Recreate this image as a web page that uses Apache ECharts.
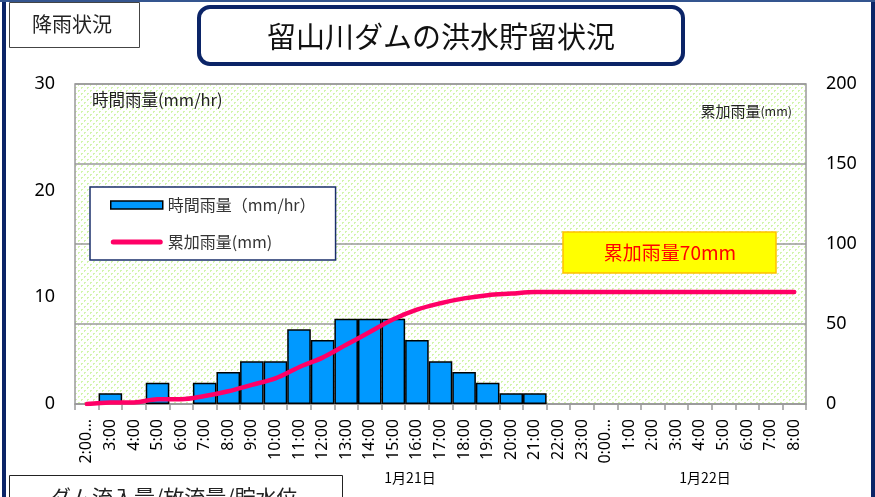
<!DOCTYPE html>
<html><head><meta charset="utf-8">
<script src="https://cdn.jsdelivr.net/npm/echarts@6/dist/echarts.min.js"></script>
<style>html,body{margin:0;padding:0;background:#fff;}#c{width:875px;height:497px;}</style>
</head><body><div id="c"></div>
<script>
const categories = ['2:00...','3:00','4:00','5:00','6:00','7:00','8:00','9:00','10:00','11:00','12:00','13:00','14:00','15:00','16:00','17:00','18:00','19:00','20:00','21:00','22:00','23:00','0:00...','1:00','2:00','3:00','4:00','5:00','6:00','7:00','8:00'];
const hourlyRain = [0,1,0,2,0,2,3,4,4,7,6,8,8,8,6,4,3,2,1,1,null,null,null,null,null,null,null,null,null,null,null];
const cumulativeRain = [0,1,1,3,3,5,8,12,16,23,29,37,45,53,59,63,66,68,69,70,70,70,70,70,70,70,70,70,70,70,70];
const leftTicks = {min:0, max:30, interval:10};
const rightTicks = {min:0, max:200, interval:50};
const dayLabels = ['1月21日','1月22日'];

const JP = "'Noto Sans CJK JP','Noto Sans',sans-serif";
const NUM = "'Noto Sans','Noto Sans CJK JP',sans-serif";

const pc = document.createElement('canvas');
pc.width = 6; pc.height = 6;
const pctx = pc.getContext('2d');
pctx.fillStyle = '#ffffff'; pctx.fillRect(0,0,6,6);
pctx.fillStyle = '#d2f5ad';
pctx.fillRect(0,0,2,1); pctx.fillRect(0,1,1,1);
pctx.fillRect(3,3,2,1); pctx.fillRect(3,4,1,1);

const chart = echarts.init(document.getElementById('c'), null, {renderer:'canvas'});
const option = {
  animation: false,
  backgroundColor: '#fff',
  grid: {left:75, right:69, top:84, bottom:93, show:true,
    backgroundColor: {image: pc, repeat: 'repeat'},
    borderColor:'#9a9a9a', borderWidth:1.5},
  legend: {
    orient:'vertical', left:90, top:187,
    backgroundColor:'#fff', borderColor:'#1a2f6b', borderWidth:1.5, borderRadius:0,
    padding:[10, 20, 10, 20],
    itemWidth:52, itemHeight:8, itemGap:21,
    textStyle:{fontFamily:JP, fontSize:16, color:'#333', lineHeight:16, padding:[0,0,0,0]},
    data:[
      {name:'時間雨量（mm/hr）', icon:'rect', itemStyle:{color:'#0099FF', borderColor:'#000', borderWidth:1.5}},
      {name:'累加雨量(mm)', icon:'path://M2.5,0 H49.5 A2.5,2.5 0 0 1 49.5,5 H2.5 A2.5,2.5 0 0 1 2.5,0 Z', itemStyle:{color:'#FF0066'}}
    ]
  },
  xAxis: {
    type:'category', data:categories, boundaryGap:true,
    axisLine:{show:true, lineStyle:{color:'#9a9a9a', width:1.5}},
    axisTick:{show:true, length:6, lineStyle:{color:'#9a9a9a', width:1.5}, alignWithLabel:false},
    axisLabel:{interval:0, rotate:90, margin:15, fontFamily:NUM, fontSize:16, color:'#000'}
  },
  yAxis: [
    {type:'value', min:leftTicks.min, max:leftTicks.max, interval:leftTicks.interval, position:'left',
      axisLine:{show:false}, axisTick:{show:false}, splitLine:{show:false},
      axisLabel:{margin:20, fontFamily:NUM, fontSize:18, color:'#000'}},
    {type:'value', min:rightTicks.min, max:rightTicks.max, interval:rightTicks.interval, position:'right',
      axisLine:{show:false}, axisTick:{show:false},
      splitLine:{show:true, lineStyle:{color:'#9a9a9a', width:1.5}},
      axisLabel:{margin:20, fontFamily:NUM, fontSize:18, color:'#000'}}
  ],
  series: [
    {name:'時間雨量（mm/hr）', type:'bar', yAxisIndex:0, barCategoryGap:'0%',
      data: hourlyRain.map(v => (v === 0 || v === null) ? '-' : v),
      itemStyle:{color:'#0099FF', borderColor:'#000', borderWidth:1.5}, z:2},
    {name:'累加雨量(mm)', type:'line', yAxisIndex:1, data:cumulativeRain, smooth:0.35,
      symbol:'none', lineStyle:{color:'#FF0066', width:4.5, cap:'round'}, itemStyle:{color:'#FF0066'}, z:3}
  ],
  graphic: [
    {type:'rect', left:2, top:0, shape:{width:4, height:497}, style:{fill:'#0b2467'}, z:10},
    {type:'rect', left:871, top:0, shape:{width:4, height:497}, style:{fill:'#0b2467'}, z:10},
    {type:'rect', left:0, top:0, shape:{width:875, height:2}, style:{fill:'#34558f'}, z:10},
    {type:'rect', left:9, top:2, shape:{width:130, height:45}, style:{fill:'#fff', stroke:'#444', lineWidth:1}, z:10},
    {type:'text', left:32, top:14, style:{text:'降雨状況', font:"20px "+JP, fill:'#222'}, z:11},
    {type:'rect', shape:{x:199, y:7, width:484, height:57, r:11}, style:{fill:'#fff', stroke:'#0b2467', lineWidth:4}, z:10},
    {type:'text', x:441, y:37, style:{text:'留山川ダムの洪水貯留状況', font:"29px "+JP, fill:'#111', textAlign:'center', textVerticalAlign:'middle'}, z:11},
    {type:'text', x:92, y:100, style:{text:'時間雨量(mm/hr)', font:"16.5px "+JP, fill:'#222', textVerticalAlign:'middle'}, z:11},
    {type:'text', x:792, y:111, style:{text:'{a|累加雨量}{b|(mm)}', textAlign:'right', textVerticalAlign:'middle',
      rich:{a:{fontFamily:JP, fontSize:15, fill:'#222'}, b:{fontFamily:JP, fontSize:12.5, fill:'#222'}}}, z:11},
    {type:'rect', shape:{x:563, y:232, width:213, height:41}, style:{fill:'#FFFF00', stroke:'#FFC000', lineWidth:1.5}, z:11},
    {type:'text', x:670, y:253, style:{text:'累加雨量70mm', font:"19px "+JP, fill:'#FF0000', textAlign:'center', textVerticalAlign:'middle'}, z:12},
    {type:'text', x:410, y:478, style:{text:dayLabels[0], font:"14px "+JP, fill:'#000', textAlign:'center', textVerticalAlign:'middle'}, z:11},
    {type:'text', x:705, y:478, style:{text:dayLabels[1], font:"14px "+JP, fill:'#000', textAlign:'center', textVerticalAlign:'middle'}, z:11},
    {type:'rect', shape:{x:9.5, y:475.5, width:333, height:40}, style:{fill:'#fff', stroke:'#222', lineWidth:1}, z:10},
    {type:'text', x:50, y:487, style:{text:'ダム流入量/放流量/貯水位', font:"21px "+JP, fill:'#222', textVerticalAlign:'top'}, z:11}
  ]
};
chart.setOption(option);
</script></body></html>
